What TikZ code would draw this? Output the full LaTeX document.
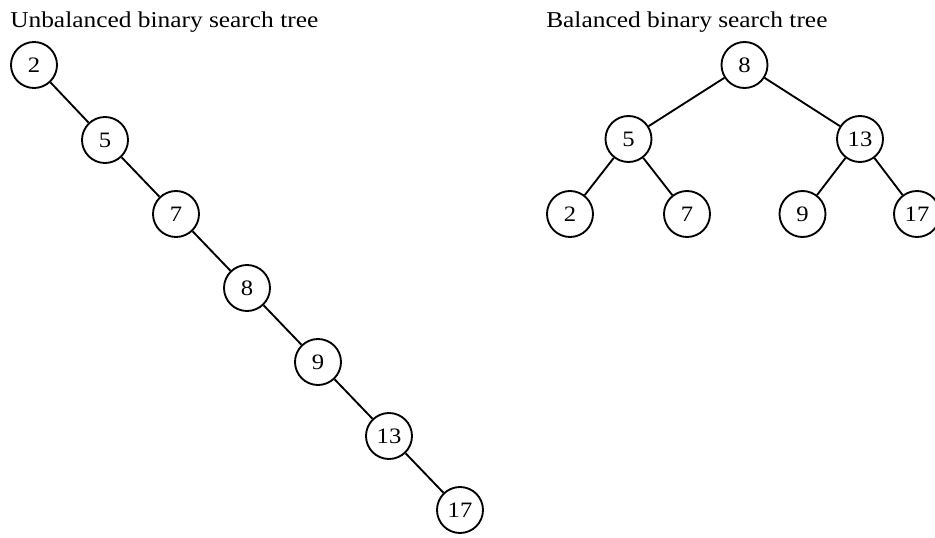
\documentclass[tikz,border=0pt]{standalone}
\usepackage{fontspec}
\setmainfont{Liberation Serif}[FakeStretch=1.12]
\begin{document}
\begin{tikzpicture}[x=0.75pt,y=-0.75pt,
  treenode/.style={draw,circle,line width=1.4pt,minimum size=34.5pt,inner sep=0pt,font=\fontsize{16.5}{18}\selectfont},
  edge/.style={line width=1.4pt},
  title/.style={anchor=base west,inner sep=0pt,font=\fontsize{17}{20}\selectfont}]
\useasboundingbox (0,0) rectangle (935,538);
\clip (0,0) rectangle (935,538);

% unbalanced tree: a single right-leaning chain
\node[title] (t1) at (10,28) {Unbalanced binary search tree};
\node[treenode] (u2)  at (34,65)  {2};
\node[treenode] (u5)  at (105,140) {5};
\node[treenode] (u7)  at (176,214) {7};
\node[treenode] (u8)  at (247,288) {8};
\node[treenode] (u9)  at (318,362) {9};
\node[treenode] (u13) at (389,436) {13};
\node[treenode] (u17) at (460,510) {17};
\draw[edge] (u2) -- (u5);
\draw[edge] (u5) -- (u7);
\draw[edge] (u7) -- (u8);
\draw[edge] (u8) -- (u9);
\draw[edge] (u9) -- (u13);
\draw[edge] (u13) -- (u17);

% balanced tree of the same keys
\node[title] (t2) at (546,28) {Balanced binary search tree};
\node[treenode] (b8)  at (744.5,65) {8};
\node[treenode] (b5)  at (628.5,139) {5};
\node[treenode] (b13) at (860,139) {13};
\node[treenode] (b2)  at (570,214) {2};
\node[treenode] (b7)  at (687,214) {7};
\node[treenode] (b9)  at (802.5,214) {9};
\node[treenode] (b17) at (917,214) {17};
\draw[edge] (b8) -- (b5);
\draw[edge] (b8) -- (b13);
\draw[edge] (b5) -- (b2);
\draw[edge] (b5) -- (b7);
\draw[edge] (b13) -- (b9);
\draw[edge] (b13) -- (b17);
\end{tikzpicture}
\end{document}
